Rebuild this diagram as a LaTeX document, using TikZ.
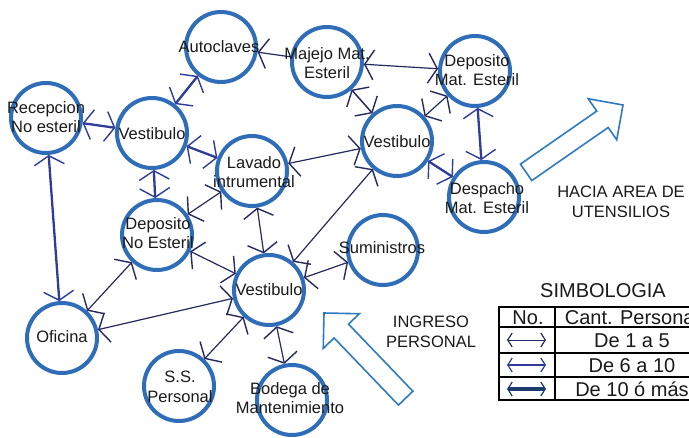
\documentclass[tikz,border=0pt]{standalone}
\usepackage{fontspec}
\setmainfont{Liberation Sans}
\usetikzlibrary{arrows.meta}

\definecolor{ring}{HTML}{2F6DB8}
\definecolor{flowthin}{HTML}{262A5E}
\definecolor{flowmid}{HTML}{2F3C9A}
\definecolor{flowthick}{HTML}{1F3A6E}
\definecolor{bigarrow}{HTML}{2E7BC2}
\definecolor{ink}{HTML}{1A1A1A}

\tikzset{
  tipbig/.tip={Straight Barb[length=9pt,width=30pt,line width=1.4pt]},
  tipkey/.tip={Straight Barb[length=4.5pt,width=14pt,line width=1.2pt]},
  area/.style={circle, draw=ring, line width=4pt, minimum size=70pt, inner sep=0pt},
  lbl/.style={text=ink, align=center, inner sep=0pt,
              font=\fontsize{16.5}{19.5}\selectfont},
  thinflow/.style={tipbig-tipbig, draw=flowthin, line width=1.2pt},
  midflow/.style={tipbig-tipbig, draw=flowmid, line width=2.3pt},
  keythin/.style={tipkey-tipkey, draw=flowthin, line width=1pt},
  keymid/.style={tipkey-tipkey, draw=flowmid, line width=2pt},
  keythick/.style={tipkey-tipkey, draw=flowthick, line width=3.6pt},
  blockarrow/.style={draw=bigarrow, line width=1.6pt, line join=miter},
  note/.style={text=ink, align=center, inner sep=0pt, font=\fontsize{16.5}{20.5}\selectfont},
  cell/.style={text=ink, inner sep=0pt, font=\fontsize{20}{22}\selectfont},
}

\begin{document}
\begin{tikzpicture}[x=1pt,y=-1pt]
  \useasboundingbox (0,0) rectangle (689,437);
  \clip (0,0) rectangle (689,437);
  \fill[white] (0,0) rectangle (689,437);

  % ---- areas ----
  \node[area] (auto)  at (221,47)  {};
  \node[area] (manejo) at (327,62) {};
  \node[area] (depme) at (475,71)  {};
  \node[area] (recep) at (46,118)  {};
  \node[area] (vesta) at (152,133) {};
  \node[area] (lavado) at (252,171) {};
  \node[area] (vestb) at (397,141) {};
  \node[area] (desp)  at (484,197) {};
  \node[area] (depne) at (157,235) {};
  \node[area] (vestc) at (269,290) {};
  \node[area] (sumin) at (383,250) {};
  \node[area] (ofic)  at (62,338)  {};
  \node[area] (ssp)   at (179,386) {};
  \node[area] (bodega) at (292,400) {};

  % ---- flows ----
  \draw[-tipbig, draw=flowthin, line width=1.2pt] (manejo) -- (auto);
  \draw[midflow]  (auto) -- (vesta);
  \draw[midflow]  (recep) -- (vesta);
  \draw[midflow]  (recep) -- (ofic);
  \draw[midflow]  (vesta) -- (lavado);
  \draw[midflow]  (vesta) -- (depne);
  \draw[thinflow] (depne) -- (lavado);
  \draw[thinflow] (depne) -- (vestc);
  \draw[thinflow] (depne) -- (ofic);
  \draw[thinflow] (lavado) -- (vestc);
  \draw[thinflow] (lavado) -- (vestb);
  \draw[thinflow] (vestc) -- (vestb);
  \draw[thinflow] (vestc) -- (sumin);
  \draw[thinflow] (vestc) -- (ofic);
  \draw[thinflow] (vestc) -- (ssp);
  \draw[thinflow] (vestc) -- (bodega);
  \draw[thinflow] (manejo) -- (depme);
  \draw[thinflow, line width=1.5pt] (manejo) -- (vestb);
  \draw[thinflow] (vestb) -- (depme);
  \draw[midflow]  (depme) -- (desp);
  \draw[midflow]  (vestb) -- (desp);

  % ---- area names ----
  \node[lbl] (auto-t)   at (219,47) {Autoclaves};
  \node[lbl] (manejo-t) at (327,63) {Majejo Mat.\\Esteril};
  \node[lbl] (depme-t)  at (477,70) {Deposito\\Mat. Esteril};
  \node[lbl] (recep-t)  at (46,117) {Recepcion\\No esteril};
  \node[lbl] (vesta-t)  at (152,134) {Vestibulo};
  \node[lbl] (lavado-t) at (254,172) {Lavado\\intrumental};
  \node[lbl] (vestb-t)  at (397,142) {Vestibulo};
  \node[lbl] (desp-t)   at (487,198) {Despacho\\Mat. Esteril};
  \node[lbl] (depne-t)  at (158,233) {Deposito\\No Esteril};
  \node[lbl] (vestc-t)  at (269,290) {Vestibulo};
  \node[lbl] (sumin-t)  at (382,248) {Suministros};
  \node[lbl] (ofic-t)   at (62,337) {Oficina};
  \node[lbl] (ssp-t)    at (180,387) {S.S.\\Personal};
  \node[lbl] (bodega-t) at (290,398) {Bodega de\\Mantenimiento};

  % ---- direction arrows ----
  \begin{scope}[shift={(623,105)}, rotate=34.8]
    \draw[blockarrow] (0,0) -- (-25,25) -- (-25,10) -- (-118,10)
      -- (-118,-10) -- (-25,-10) -- (-25,-25) -- cycle;
  \end{scope}
  \begin{scope}[shift={(324,313)}, rotate=133.8]
    \draw[blockarrow] (0,0) -- (-25,25) -- (-25,10) -- (-118,10)
      -- (-118,-10) -- (-25,-10) -- (-25,-25) -- cycle;
  \end{scope}
  \node[note] (hacia) at (621,202) {HACIA AREA DE\\UTENSILIOS};
  \node[note] (ingreso) at (431,332) {INGRESO\\PERSONAL};

  % ---- key ----
  \node[text=ink, inner sep=0pt, font=\fontsize{20}{22}\selectfont] (simb) at (603,291) {SIMBOLOGIA};
  \draw[black, line width=1.2pt] (499,307) rectangle (708,400);
  \draw[black, line width=1.2pt] (499,327) -- (708,327)
    (499,353) -- (708,353) (499,377) -- (708,377) (555,307) -- (555,400);
  \node[cell] (hno)   at (528,317.5) {No.};
  \node[cell] (hcant) at (632,317.5) {Cant. Personal};
  \node[cell] (r1) at (632,340.5) {De 1 a 5};
  \node[cell] (r2) at (632,365.5) {De 6 a 10};
  \node[cell] (r3) at (632,389) {De 10 ó más};

  \coordinate (k1a) at (507,340); \coordinate (k1b) at (546,340);
  \coordinate (k2a) at (507,365); \coordinate (k2b) at (546,365);
  \coordinate (k3a) at (507,389); \coordinate (k3b) at (546,389);
  \draw[keythin]  (k1a) -- (k1b);
  \draw[keymid]   (k2a) -- (k2b);
  \draw[keythick] (k3a) -- (k3b);
\end{tikzpicture}
\end{document}
